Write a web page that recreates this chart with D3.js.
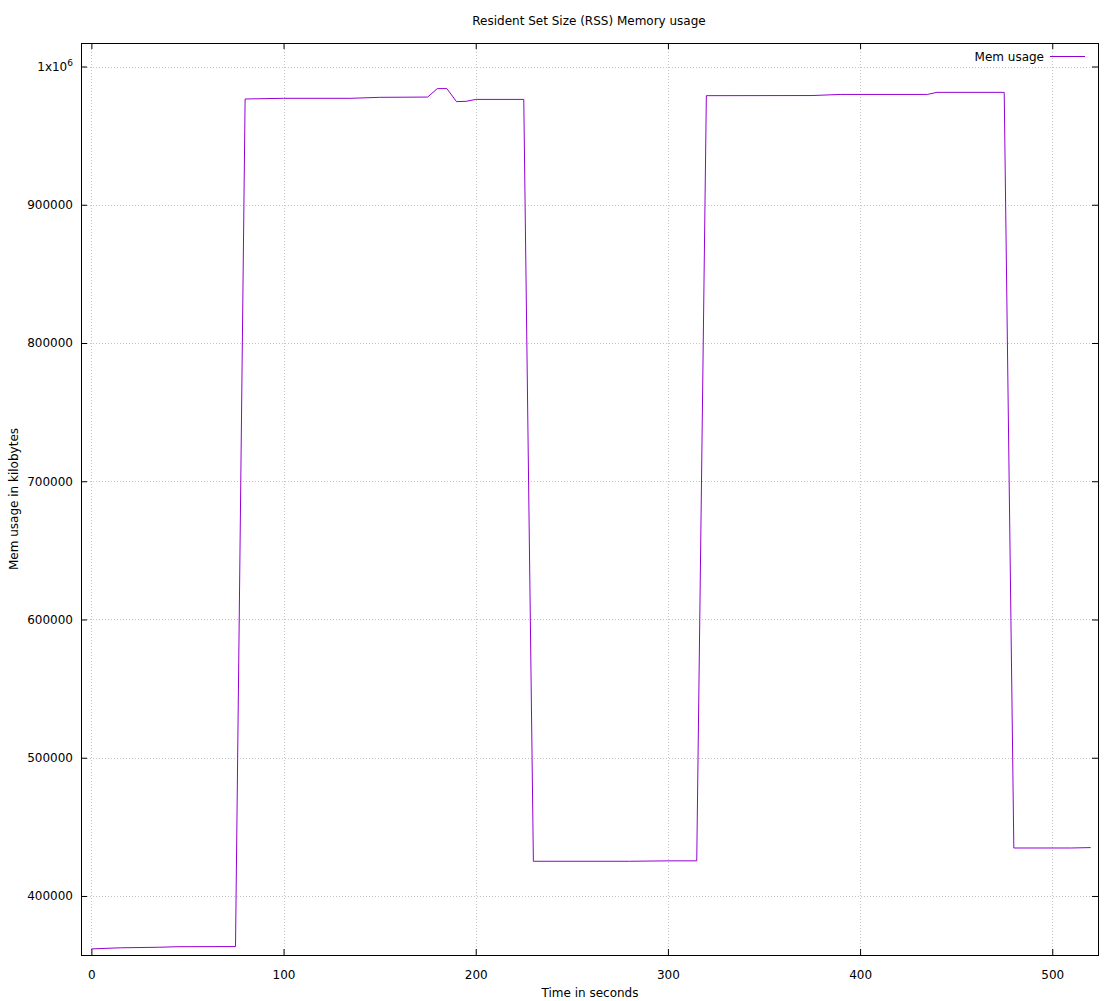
<!DOCTYPE html>
<html>
<head>
<meta charset="utf-8">
<script src="https://cdn.jsdelivr.net/npm/d3@7"></script>
<style>
  body { margin: 0; background: #fff; }
  text { font-family: "DejaVu Sans", sans-serif; font-size: 12px; fill: #000; }
</style>
</head>
<body>
<div id="chart"></div>
<script>
"use strict";

// time in seconds / RSS in kilobytes
const timeSec = [0, 15, 35, 45, 75, 80, 100, 135, 150, 175, 180, 185, 190, 195, 200, 225,
  230, 280, 300, 315, 320, 375, 390, 435, 440, 475, 480, 510, 520];
const memKb = [361700, 362500, 362900, 363300, 363400, 976500, 977000, 977000, 977700, 977900,
  984000, 984000, 974600, 974800, 976200, 976200,
  425100, 425100, 425400, 425400, 978900, 979000, 979800, 979800, 981300, 981300,
  434700, 434700, 435000];
const xTicks = [0, 100, 200, 300, 400, 500];
const yTicks = [400000, 500000, 600000, 700000, 800000, 900000, 1000000];
const seriesName = "Mem usage";

const width = 1118, height = 1001;
const margins = {top: 43, right: 20, bottom: 46, left: 81};
const w = width - margins.left - margins.right;
const h = height - margins.top - margins.bottom;

const svg = d3.select("#chart").append("svg")
  .attr("width", width)
  .attr("height", height);

const g = svg.append("g")
  .attr("transform", `translate(${margins.left},${margins.top})`);

const xScale = d3.scaleLinear().domain([-5.4, 523.8]).range([0, w]);
const yScale = d3.scaleLinear().domain([357300, 1017000]).range([h, 0]);
const px = v => Math.round(v) + 0.5;

// grid
g.append("g").selectAll("line").data(xTicks).join("line")
  .attr("x1", d => px(xScale(d))).attr("x2", d => px(xScale(d)))
  .attr("y1", 0).attr("y2", h)
  .attr("stroke", "#c4c4c4").attr("stroke-dasharray", "1,2");
g.append("g").selectAll("line").data(yTicks).join("line")
  .attr("x1", 0).attr("x2", w)
  .attr("y1", d => px(yScale(d))).attr("y2", d => px(yScale(d)))
  .attr("stroke", "#c4c4c4").attr("stroke-dasharray", "1,2");

// axes (ticks inside, mirrored)
const fmtY = d => d === 1000000 ? "" : d;
const xAxis = g.append("g").attr("transform", `translate(0,${h})`)
  .call(d3.axisBottom(xScale).tickValues(xTicks).tickSizeInner(-6).tickSizeOuter(0).tickPadding(15));
const xAxisTop = g.append("g")
  .call(d3.axisTop(xScale).tickValues(xTicks).tickSizeInner(-6).tickSizeOuter(0).tickFormat(""));
const yAxis = g.append("g")
  .call(d3.axisLeft(yScale).tickValues(yTicks).tickSizeInner(-6).tickSizeOuter(0).tickPadding(8).tickFormat(fmtY));
const yAxisRight = g.append("g").attr("transform", `translate(${w},0)`)
  .call(d3.axisRight(yScale).tickValues(yTicks).tickSizeInner(-6).tickSizeOuter(0).tickFormat(""));

[xAxis, xAxisTop, yAxis, yAxisRight].forEach(a => {
  a.select(".domain").remove();
  a.selectAll("line").attr("stroke", "#000");
  a.selectAll("text").attr("font-family", "DejaVu Sans").attr("font-size", 12).attr("fill", "#000");
});

// 1x10^6 label
const supLabel = yAxis.append("text")
  .attr("x", -8).attr("y", yScale(1000000) + 4)
  .attr("text-anchor", "end");
supLabel.append("tspan").text("1x10");
supLabel.append("tspan").attr("dy", -5).attr("font-size", 9).text("6");

// border
g.append("rect")
  .attr("x", 0.5).attr("y", 0.5).attr("width", w).attr("height", h)
  .attr("fill", "none").attr("stroke", "#000");

// series line
const line = d3.line().x((d, i) => xScale(timeSec[i])).y(d => yScale(d));
g.append("path")
  .datum(memKb)
  .attr("d", line)
  .attr("fill", "none")
  .attr("stroke", "#9400d3")
  .attr("stroke-width", 1);

// legend
g.append("text")
  .attr("x", 963).attr("y", 14 + 4)
  .attr("text-anchor", "end")
  .text(seriesName);
g.append("line")
  .attr("x1", 969).attr("x2", 1004).attr("y1", 13.5).attr("y2", 13.5)
  .attr("stroke", "#9400d3");

// titles
svg.append("text")
  .attr("x", 589).attr("y", 25)
  .attr("text-anchor", "middle")
  .text("Resident Set Size (RSS) Memory usage");
svg.append("text")
  .attr("x", 590).attr("y", 997)
  .attr("text-anchor", "middle")
  .text("Time in seconds");
svg.append("text")
  .attr("transform", `translate(18,${499}) rotate(-90)`)
  .attr("text-anchor", "middle")
  .text("Mem usage in kilobytes");
</script>
</body>
</html>
